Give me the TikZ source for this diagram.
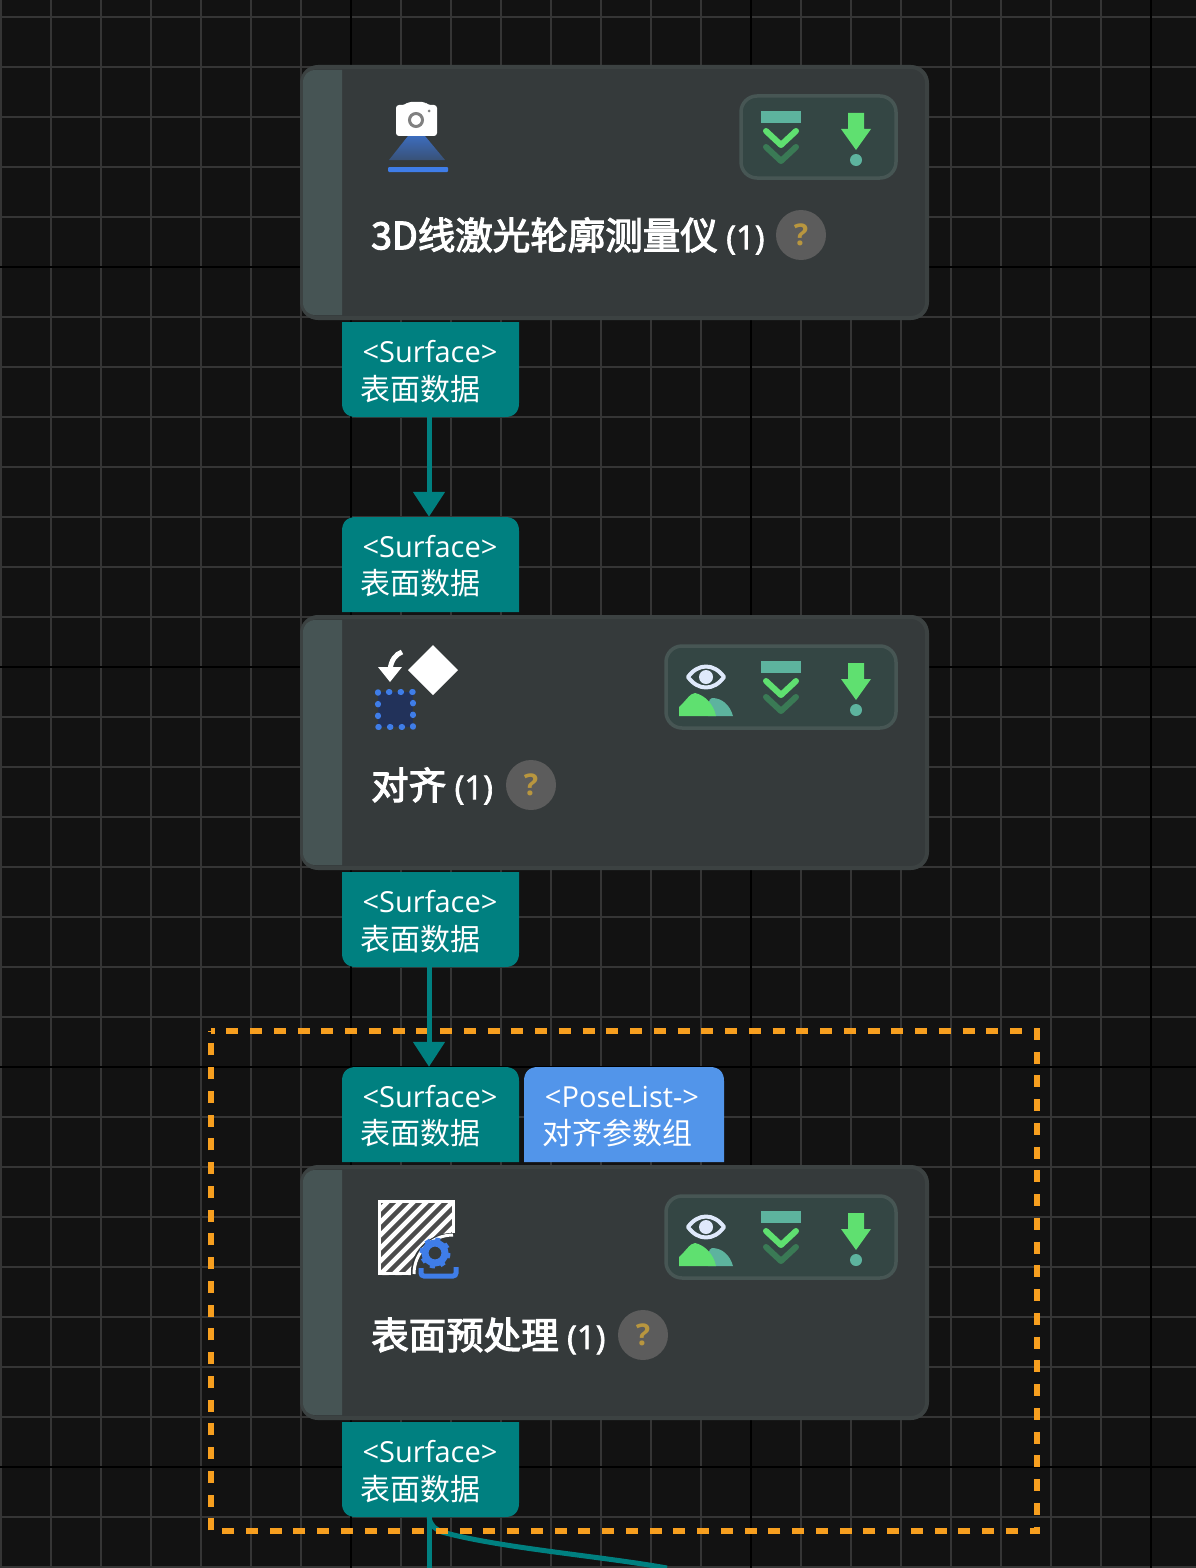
\documentclass[tikz,border=0pt]{standalone}
\usepackage{fontspec}
\setmainfont{Open Sans}
\newfontfamily\cjk{Noto Sans CJK SC}
\newfontfamily\cjktitle[FakeBold=3]{Noto Sans CJK SC}
\newfontfamily\lattitle[FakeBold=2]{Open Sans}
\usetikzlibrary{arrows.meta}

\definecolor{bgdark}{HTML}{121212}
\definecolor{gridlight}{HTML}{353535}
\definecolor{cardfill}{HTML}{353A3B}
\definecolor{cardedge}{HTML}{3C4242}
\definecolor{cardbar}{HTML}{465454}
\definecolor{portteal}{HTML}{008080}
\definecolor{portblue}{HTML}{5295EA}
\definecolor{dashorange}{HTML}{F79F1F}
\definecolor{badgefill}{HTML}{344644}
\definecolor{badgeedge}{HTML}{475654}
\definecolor{icongreen}{HTML}{5FE070}
\definecolor{iconmint}{HTML}{5DB39E}
\definecolor{icondeep}{HTML}{3A7A55}
\definecolor{iconblue}{HTML}{3F7DE8}
\definecolor{icondark}{HTML}{22325A}
\definecolor{eyewhite}{HTML}{DFE9FB}
\definecolor{helpgrey}{HTML}{5C5C5C}
\definecolor{helpgold}{HTML}{B8963F}

\tikzset{
  card/.style={draw=cardedge,fill=cardfill,line width=4pt,rounded corners=16pt,minimum width=625pt,minimum height=251pt,inner sep=0pt},
  portbox/.style={minimum width=177pt,minimum height=95pt,inner sep=0pt},
  porttext/.style={text=white,inner sep=0pt,font=\fontsize{29}{34}\selectfont},
  portcjk/.style={text=white,inner sep=0pt,font=\cjk\fontsize{30}{36}\selectfont},
  cardtitle/.style={text=white,inner sep=0pt,anchor=west,font=\cjktitle\fontsize{37.5}{42}\selectfont},
  helpmark/.style={circle,fill=helpgrey,minimum size=50pt,inner sep=0pt,text=helpgold,font=\bfseries\fontsize{30}{36}\selectfont},
  badge/.style={draw=badgeedge,fill=badgefill,line width=3.5pt,rounded corners=16pt,inner sep=0pt},
  flow/.style={draw=portteal,line width=5pt},
  flowtip/.style={flow,-{Triangle[length=25pt,width=31pt]}},
}

% icons of the badge, (0,0) is the top of the icon column
\newcommand{\iconbars}[2]{
  \fill[iconmint] (#1-20,#2+16) rectangle (#1+20,#2+28);
  \draw[icongreen,line width=6pt,line cap=round,line join=round] (#1-15,#2+36)--(#1,#2+50)--(#1+15,#2+36);
  \draw[icondeep,line width=6pt,line cap=round,line join=round] (#1-15,#2+52)--(#1,#2+66)--(#1+15,#2+52);
}
\newcommand{\icondrop}[2]{
  \fill[icongreen] (#1-8,#2+18)--(#1+8,#2+18)--(#1+8,#2+34)--(#1+15,#2+34)--(#1,#2+55)--(#1-15,#2+34)--(#1-8,#2+34)--cycle;
  \fill[iconmint] (#1,#2+65) circle (6);
}
\newcommand{\iconeye}[2]{
  \draw[eyewhite,line width=4pt,line join=round] (#1-18,#2+32) .. controls (#1-8,#2+18) and (#1+8,#2+18) .. (#1+18,#2+32) .. controls (#1+8,#2+46) and (#1-8,#2+46) .. cycle;
  \fill[eyewhite] (#1,#2+32) circle (7);
  \fill[iconmint] (#1+2,#2+71) .. controls (#1+2,#2+60) and (#1+2,#2+54) .. (#1+6,#2+53) .. controls (#1+16,#2+53) and (#1+24,#2+60) .. (#1+27,#2+71) -- cycle;
  \fill[icongreen] (#1-27,#2+71) -- (#1-27,#2+62) .. controls (#1-21,#2+57) and (#1-16,#2+48) .. (#1-11,#2+48) .. controls (#1-1,#2+50) and (#1+8,#2+60) .. (#1+10,#2+71) -- cycle;
}

\begin{document}
\begin{tikzpicture}[x=1pt,y=-1pt]
  \useasboundingbox (0,0) rectangle (1196,1568);
  \fill[bgdark] (0,0) rectangle (1196,1568);

  % grid
  \foreach \i in {0,...,23} {
    \draw[gridlight,line width=1.5pt] ({1+50*\i},0)--({1+50*\i},1568);
  }
  \foreach \i in {0,...,31} {
    \draw[gridlight,line width=1.5pt] (0,{17+50*\i})--(1196,{17+50*\i});
  }
  \foreach \i in {351,751,1151} {
    \draw[black,line width=2pt] (\i,0)--(\i,1568);
  }
  \foreach \i in {267,667,1067,1467} {
    \draw[black,line width=2pt] (0,\i)--(1196,\i);
  }

  % cards
  \node[card] (camcard) at (614.5,192.5) {};
  \node[card] (aligncard) at (614.5,742.5) {};
  \node[card] (surfcard) at (614.5,1292.5) {};
  \foreach \c/\y in {camcard/70,aligncard/620,surfcard/1170} {
    \fill[cardbar] (342,\y) -- (316,\y) .. controls (308,\y) and (303,\y+5) .. (303,\y+13)
      -- (303,\y+232) .. controls (303,\y+240) and (308,\y+245) .. (316,\y+245) -- (342,\y+245) -- cycle;
  }

  % ports under the cards
  \foreach \p/\y in {camout/322,alignout/872,surfout/1422} {
    \node[portbox] (\p) at (429,\y+47.5) {};
    \fill[portteal] (342,\y) -- (519,\y) -- (519,\y+81) .. controls (519,\y+90) and (514,\y+95) .. (505,\y+95)
      -- (356,\y+95) .. controls (347,\y+95) and (342,\y+90) .. (342,\y+81) -- cycle;
    \node[porttext] (\p a) at (430,\y+30) {<Surface>};
    \node[portcjk] (\p b) at (420,\y+67) {表面数据};
  }
  % ports above the cards
  \foreach \p/\y in {alignin/517,surfin/1067} {
    \node[portbox] (\p) at (429,\y+47.5) {};
    \fill[portteal] (342,\y+95) -- (342,\y+14) .. controls (342,\y+5) and (347,\y) .. (356,\y)
      -- (505,\y) .. controls (514,\y) and (519,\y+5) .. (519,\y+14) -- (519,\y+95) -- cycle;
    \node[porttext] (\p a) at (430,\y+30) {<Surface>};
    \node[portcjk] (\p b) at (420,\y+66) {表面数据};
  }
  \node[portbox,minimum width=200pt] (poseport) at (624,1114.5) {};
  \fill[portblue] (524,1162) -- (524,1081) .. controls (524,1072) and (529,1067) .. (538,1067)
    -- (710,1067) .. controls (719,1067) and (724,1072) .. (724,1081) -- (724,1162) -- cycle;
  \node[porttext] (posea) at (622,1097) {<PoseList->};
  \node[portcjk] (poseb) at (617,1133) {对齐参数组};

  % connectors
  \coordinate (downend) at (429,1568);
  \coordinate (sideend) at (667,1568);
  \draw[flow] (surfout.south) -- (downend);
  \draw[flow] (surfout.south) .. controls (431,1527) and (436,1529) .. (442,1532) .. controls (500,1548) and (600,1556) .. (sideend);

  % selection
  \draw[dashorange,line width=5.5pt,dash pattern=on 12pt off 11.75pt,dash phase=8.5pt] (211,1031) -- (1037,1031) -- (1037,1531) -- (211,1531) -- cycle;

  \draw[flowtip] (camout.south) -- (alignin.north);
  \draw[flowtip] (alignout.south) -- (surfin.north);

  % titles
  \node[cardtitle] (camtitle) at (371,236) {3D线激光轮廓测量仪 {\lattitle\fontsize{33}{38}\selectfont(1)}};
  \node[helpmark] (camhelp) at (801,235) {?};
  \node[cardtitle] (aligntitle) at (371,786) {对齐 {\lattitle\fontsize{33}{38}\selectfont(1)}};
  \node[helpmark] (alignhelp) at (531,785) {?};
  \node[cardtitle] (surftitle) at (371,1336) {表面预处理 {\lattitle\fontsize{33}{38}\selectfont(1)}};
  \node[helpmark] (surfhelp) at (643,1335) {?};

  % badges
  \draw[badge] (741,96) rectangle (896,178);
  \iconbars{781}{95}
  \icondrop{856}{95}
  \draw[badge] (666,646) rectangle (896,728);
  \iconeye{706}{645}
  \iconbars{781}{645}
  \icondrop{856}{645}
  \draw[badge] (666,1196) rectangle (896,1278);
  \iconeye{706}{1195}
  \iconbars{781}{1195}
  \icondrop{856}{1195}

  % camera
  \shade[top color=iconblue!75!cardfill,bottom color=iconblue!35!cardfill] (408,136) -- (425,136) -- (445,160) -- (389,160) -- cycle;
  \fill[iconblue,rounded corners=1pt] (388,167) rectangle (448,172);
  \fill[white,rounded corners=3pt] (396,105) -- (405,105) -- (408,102) -- (425,102) -- (428,105) -- (437,105) -- (437,136) -- (396,136) -- cycle;
  \draw[gray,line width=3pt] (416,120) circle (6.5);
  \fill[gray] (429,111) circle (1.5);

  % align
  \fill[white] (433,645) -- (458,670) -- (433,695) -- (408,670) -- cycle;
  \draw[white,line width=5pt] (402,652) .. controls (396,654) and (391,660) .. (390,670);
  \fill[white] (378,667) -- (402,667) -- (390,682) -- cycle;
  \fill[icondark] (378,692) rectangle (413,727);
  \draw[iconblue,line width=5.5pt,line cap=round,dash pattern=on 1pt off 10.67pt] (378,692) rectangle (413,727);

  % surface
  \begin{scope}
    \clip (378,1200) rectangle (455,1275);
    \fill[white] (378,1200) rectangle (455,1275);
    \foreach \i in {-6,...,8} {
      \draw[black!70,line width=4.5pt] ({350+13*\i},1285)--({350+13*\i+90},1195);
    }
  \end{scope}
  \draw[white,line width=3pt] (379.5,1201.5) rectangle (453.5,1273.5);
  \fill[cardfill] (411,1278) -- (411,1272) .. controls (411,1250) and (430,1233) .. (452,1233) -- (458,1233) -- (460,1280) -- cycle;
  \draw[white,line width=3pt] (414,1274) .. controls (414,1252) and (432,1235) .. (453,1235);
  \draw[iconblue,line width=4pt,dash pattern=on 5pt off 5.6pt] (435,1253) circle (13.5);
  \draw[iconblue,line width=7pt] (435,1253) circle (10);
  \draw[iconblue,line width=5pt,rounded corners=3pt] (421,1268) -- (421,1276) -- (456,1276) -- (456,1267);
\end{tikzpicture}
\end{document}
